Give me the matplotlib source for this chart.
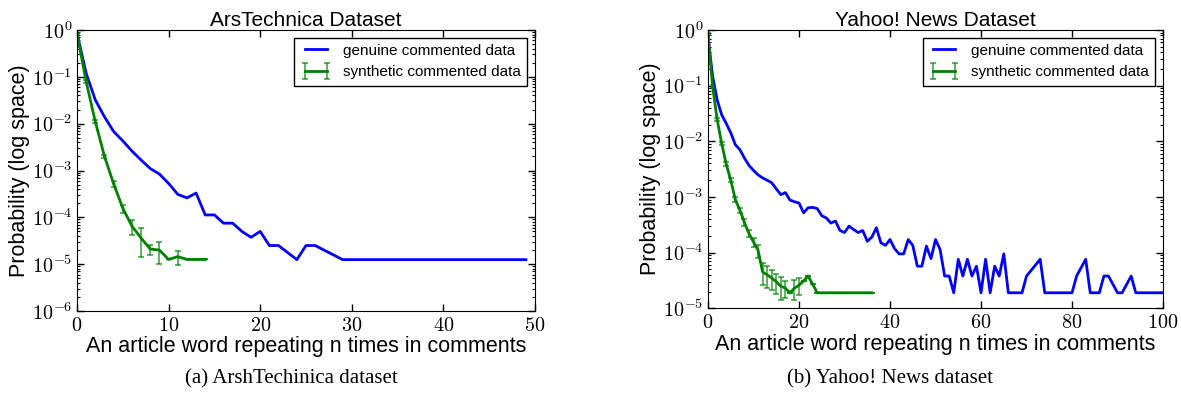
import matplotlib
matplotlib.use("Agg")
import numpy as np
import matplotlib.pyplot as plt
from matplotlib.ticker import FuncFormatter, LogLocator

# ArsTechnica - genuine comments
ars_x = [0, 1, 2, 3, 4, 5, 6, 7, 8, 9, 10, 11, 12, 13, 14, 15, 16, 17, 18, 19,
         20, 21, 22, 24, 25, 26, 29, 49]
ars_p = [0.85, 0.119, 0.032, 0.014, 0.0068, 0.0043, 0.0026, 0.00167, 0.0011,
         0.00084, 0.00053, 0.00031, 0.00026, 0.00033, 1.125e-4, 1.125e-4,
         7.5e-5, 7.5e-5, 5.0e-5, 3.75e-5, 5.0e-5, 2.5e-5, 2.5e-5, 1.25e-5,
         2.5e-5, 2.5e-5, 1.25e-5, 1.25e-5]

# ArsTechnica - synthetic comments (mean, error)
ars_syn_x = [0, 1, 2, 3, 4, 5, 6, 7, 8, 9, 10, 11, 12, 13, 14]
ars_syn_p = [0.85, 0.079, 0.011, 0.0020, 0.00052, 1.56e-4, 6.5e-5, 3.6e-5,
             2.1e-5, 2.0e-5, 1.26e-5, 1.45e-5, 1.26e-5, 1.26e-5, 1.26e-5]
ars_syn_err = [0.02, 0.006, 0.0009, 0.00018, 0.00008, 3.0e-5, 2.3e-5, 2.2e-5,
               0.5e-5, 1.0e-5, 0.0, 0.48e-5, 0.0, 0.0, 0.0]

# Yahoo! News - genuine comments
yah_x = list(range(0, 67)) + [69, 70, 73, 74, 80, 81, 83, 84, 86, 87, 88, 90,
                              91, 93, 94, 100]
yah_p = [0.75, 0.15, 0.056, 0.030, 0.021, 0.0142, 0.0087, 0.0071, 0.0050,
         0.0037, 0.0030, 0.0025, 0.0022, 0.0020, 0.0018, 0.0014, 0.0011,
         0.0012, 0.00088, 0.00082, 0.00078, 0.00052, 0.00064, 0.00065,
         0.00062, 0.00046, 0.00042, 0.00034, 0.00037, 0.00025, 0.00023,
         0.00030, 0.00026, 0.00023, 0.00025, 0.00016, 0.00019, 0.00028,
         0.00015, 0.000135, 0.000172, 0.000118, 0.000095, 0.000095, 0.000172,
         0.000135, 0.000057, 0.000057, 0.000131, 0.000078, 0.000172,
         0.000114, 0.000038, 0.000038, 0.000019, 0.000076, 0.000038,
         0.000076, 0.000038, 0.000057, 0.000019, 0.000076, 0.000019,
         0.000057, 0.000038, 0.000095, 0.000019,
         0.000019, 0.000038, 0.000076, 0.000019, 0.000019, 0.000038,
         0.000076, 0.000019, 0.000019, 0.000038, 0.000038, 0.000019,
         0.000019, 0.000038, 0.000019, 0.000019]

# Yahoo! News - synthetic comments (mean, error)
yah_syn_x = list(range(0, 37))
yah_syn_p = [0.85, 0.098, 0.025, 0.0091, 0.0039, 0.0020, 0.00090, 0.00058,
             0.00035, 0.00022, 0.000155, 0.000110, 4.5e-5, 4.0e-5, 3.5e-5,
             3.0e-5, 2.5e-5, 2.3e-5, 1.9e-5, 2.3e-5, 2.6e-5, 3.1e-5, 3.8e-5,
             2.7e-5] + [1.9e-5] * 13
yah_syn_err = [0.02, 0.006, 0.0015, 0.0006, 0.0003, 0.00015, 0.0001, 0.00006,
               0.00005, 0.00003, 0.00003, 0.00003, 1.9e-5, 1.7e-5, 1.4e-5,
               1.2e-5, 1.1e-5, 0.8e-5, 0.0, 0.9e-5, 0.9e-5, 0.0, 0.0,
               0.0] + [0.0] * 13

plt.rcParams["font.family"] = ["Liberation Sans", "DejaVu Sans"]
plt.rcParams["mathtext.fontset"] = "cm"


def draw_panel(ax, x, p, sx, sp, serr, title, xmax, ymin):
    ax.plot(x, p, color="blue", linewidth=2, label="genuine commented data")
    ax.errorbar(sx, sp, yerr=serr, color="green", linewidth=2,
                ecolor=(0, 0.5, 0, 0.6), elinewidth=1.5, capsize=2.5,
                capthick=1.5, label="synthetic commented data")
    ax.set_yscale("log")
    ax.set_xlim(0, xmax)
    ax.set_ylim(ymin, 1)
    ax.yaxis.set_major_locator(LogLocator(base=10, numticks=10))
    ax.yaxis.set_minor_locator(LogLocator(base=10, subs=np.arange(2, 10), numticks=10))
    ax.yaxis.set_major_formatter(FuncFormatter(lambda v, pos: r"$10^{%d}$" % round(np.log10(v))))
    ax.xaxis.set_major_formatter(FuncFormatter(lambda v, pos: r"$%d$" % v))
    ax.tick_params(which="both", direction="in", top=True, right=True, labelsize=14.5)
    ax.tick_params(which="major", length=5, width=1)
    ax.tick_params(which="minor", length=2.5, width=0.8)
    ax.set_title(title, fontsize=15, pad=3)
    ax.set_xlabel("An article word repeating n times in comments", fontsize=15.5, labelpad=1)
    ax.set_ylabel("Probability (log space)", fontsize=15.5, labelpad=1)
    ax.legend(loc="upper right", fontsize=11, numpoints=2, fancybox=False,
              edgecolor="black", framealpha=1, borderaxespad=0.5)


def main():
    fig = plt.figure(figsize=(11.81, 3.98), dpi=100)
    ax1 = fig.add_axes([0.0652, 0.2186, 0.3878, 0.706])
    ax2 = fig.add_axes([0.5995, 0.2254, 0.3853, 0.6992])

    draw_panel(ax1, ars_x, ars_p, ars_syn_x, ars_syn_p, ars_syn_err,
               "ArsTechnica Dataset", 50, 1e-6)
    draw_panel(ax2, yah_x, yah_p, yah_syn_x, yah_syn_p, yah_syn_err,
               "Yahoo! News Dataset", 100, 1e-5)

    fig.text(0.2464, 0.036, "(a) ArshTechinica dataset", ha="center",
             fontsize=15, family="Liberation Serif")
    fig.text(0.7536, 0.036, "(b) Yahoo! News dataset", ha="center",
             fontsize=15, family="Liberation Serif")

    fig.savefig("out.png", dpi=100)


if __name__ == "__main__":
    main()
